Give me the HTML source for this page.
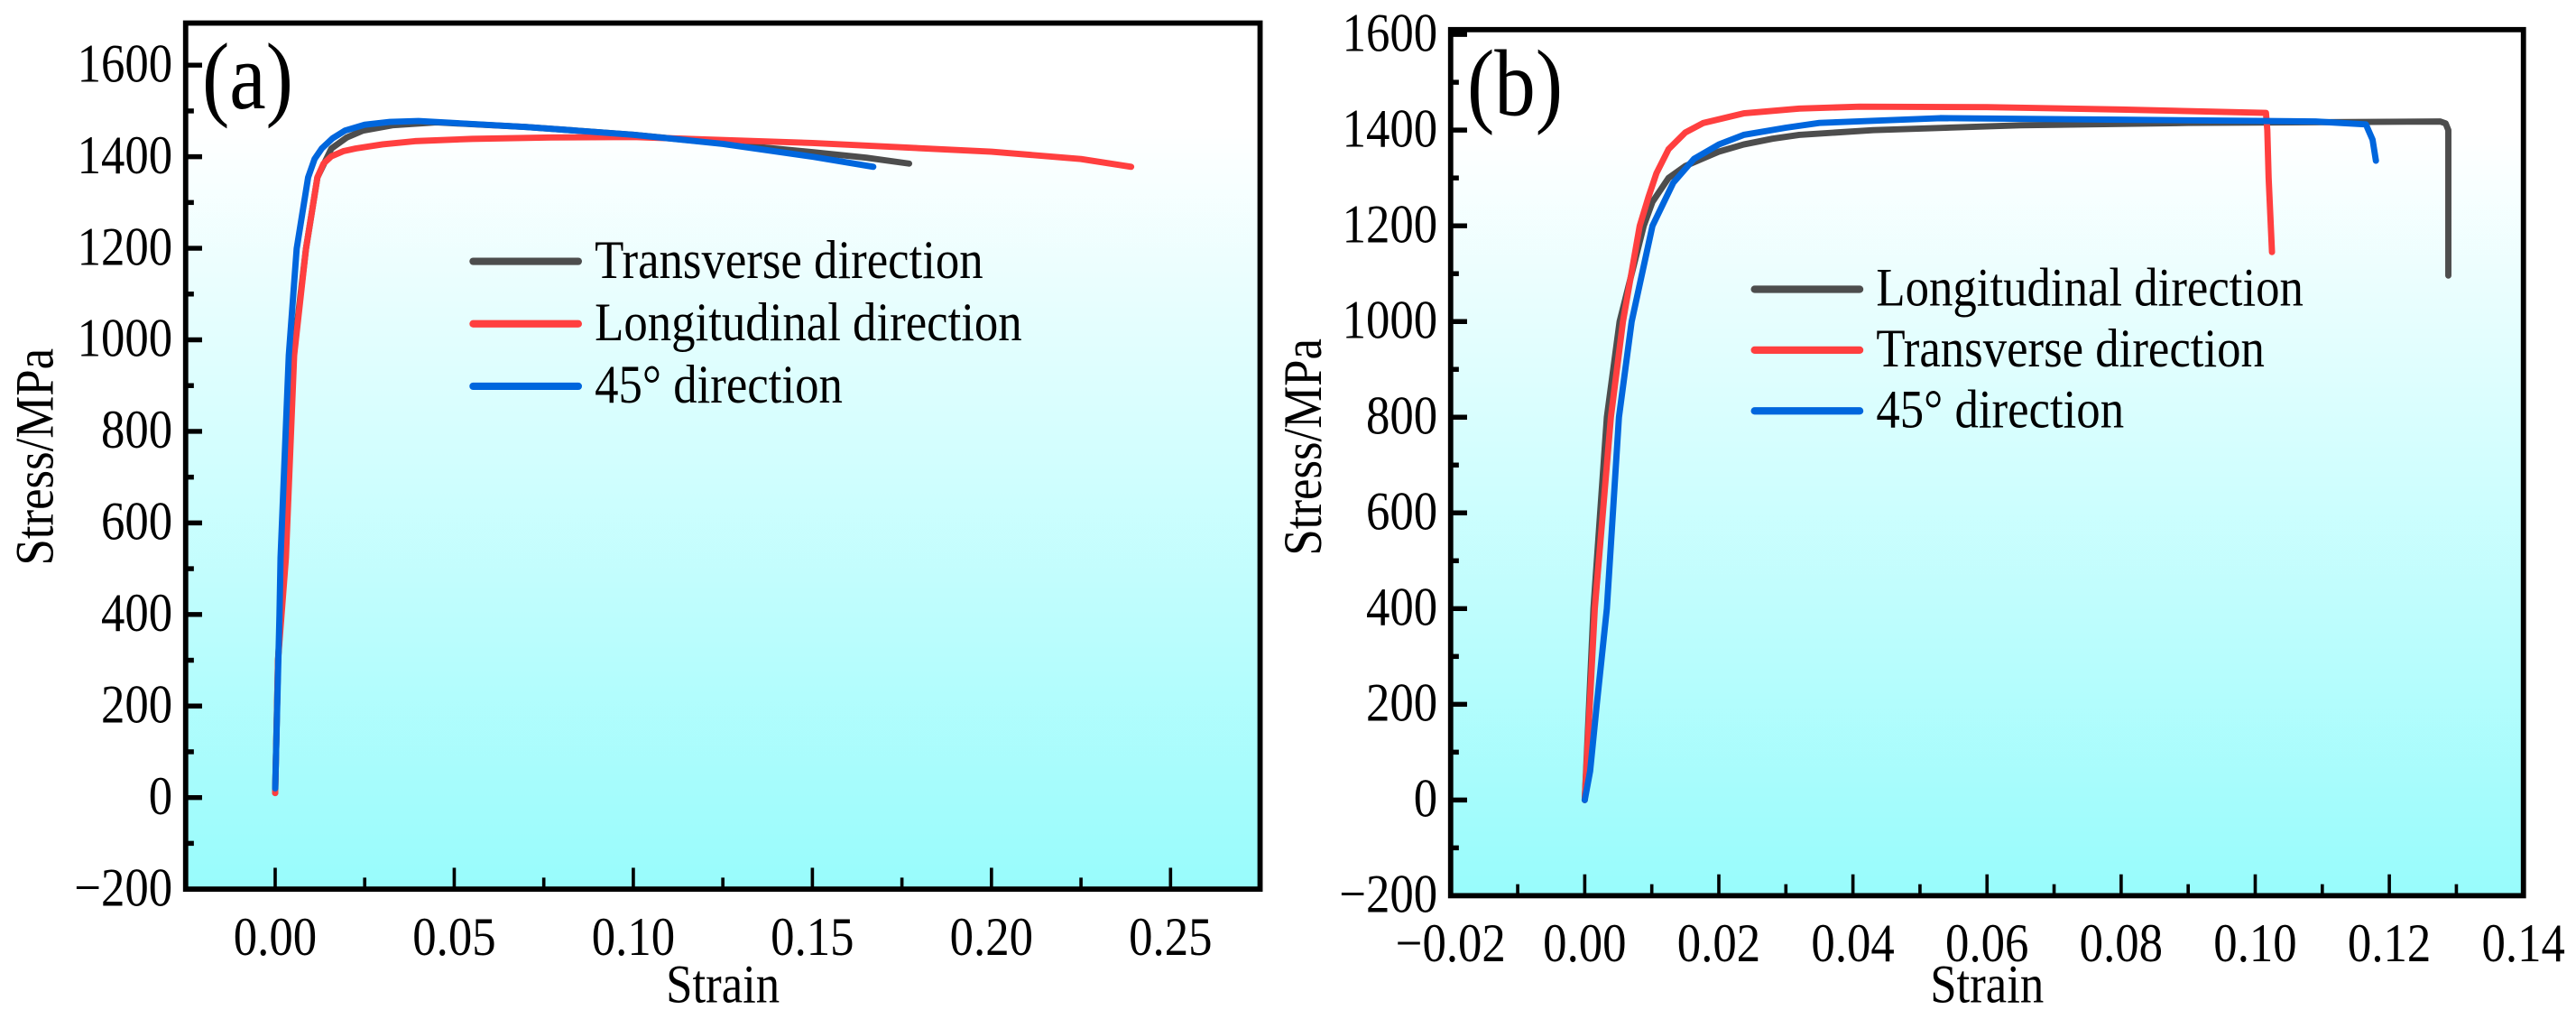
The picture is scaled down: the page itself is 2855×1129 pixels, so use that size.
<!DOCTYPE html>
<html><head><meta charset="utf-8"><style>
html,body{margin:0;padding:0;background:#fff;}
svg{display:block;font-family:"Liberation Serif",serif;}
</style></head><body>
<svg id="fig" width="2855" height="1129" viewBox="0 0 1568 620" xmlns="http://www.w3.org/2000/svg">
<defs>
<linearGradient id="bg" x1="0" y1="0" x2="0" y2="1">
<stop offset="0" stop-color="#ffffff"/><stop offset="0.12" stop-color="#ffffff"/><stop offset="1" stop-color="#98fcfc"/>
</linearGradient>
</defs>
</svg>
<script>
// ---------- Panel (a) data ----------
const aTransX = [0,0.0008,0.0025,0.005,0.0086,0.0118,0.0157,0.02,0.0245,0.033,0.045,0.07,0.1,0.13,0.15,0.165,0.177];
const aTransY = [10,300,520,960,1199,1355,1418,1442,1457,1469,1475,1465,1448,1425,1410,1398,1385];
const aLongX = [0,0.0008,0.003,0.0053,0.0086,0.0118,0.0135,0.0157,0.019,0.0225,0.03,0.039,0.055,0.077,0.1,0.15,0.2,0.225,0.239];
const aLongY = [10,300,524,966,1199,1355,1385,1401,1412,1418,1427,1434,1439,1442,1443,1430,1411,1395,1378];
const a45X = [0,0.0012,0.0015,0.0038,0.006,0.0092,0.011,0.013,0.016,0.0195,0.025,0.032,0.04,0.07,0.1,0.125,0.15,0.167];
const a45Y = [20,400,524,966,1199,1355,1395,1418,1440,1457,1470,1476,1478,1465,1448,1428,1400,1378];
const aXTicks = [0,0.05,0.10,0.15,0.20,0.25];
const aXTickLabels = ["0.00","0.05","0.10","0.15","0.20","0.25"];
const aYTicks = [-200,0,200,400,600,800,1000,1200,1400,1600];
const aLegend = ["Transverse direction","Longitudinal direction","45° direction"];
// ---------- Panel (b) data ----------
const bLongX = [0,0.0013,0.0033,0.0052,0.0088,0.0101,0.0125,0.015,0.0175,0.02,0.0237,0.028,0.032,0.043,0.065,0.09,0.1276,0.1284,0.1288,0.1288,0.1288];
const bLongY = [0,400,800,1000,1200,1250,1300,1325,1340,1355,1370,1382,1390,1400,1410,1415,1418,1414,1400,1250,1096];
const bTransX = [0,0.0015,0.0039,0.0057,0.0082,0.0095,0.0107,0.0125,0.015,0.0177,0.0237,0.032,0.041,0.06,0.08,0.1016,0.1018,0.102,0.1025];
const bTransY = [0,400,800,1000,1200,1260,1310,1360,1395,1415,1435,1445,1449,1448,1443,1436,1400,1300,1145];
const b45X = [0,0.0008,0.0018,0.0033,0.0051,0.007,0.0101,0.0132,0.0163,0.02,0.0237,0.03,0.035,0.053,0.078,0.109,0.1165,0.1175,0.118];
const b45Y = [0,60,200,400,800,1000,1200,1290,1340,1370,1390,1405,1415,1425,1422,1418,1412,1380,1336];
const bXTicks = [-0.02,0,0.02,0.04,0.06,0.08,0.10,0.12,0.14];
const bXTickLabels = ["\u22120.02","0.00","0.02","0.04","0.06","0.08","0.10","0.12","0.14"];
const bYTicks = [-200,0,200,400,600,800,1000,1200,1400,1600];
const bLegend = ["Longitudinal direction","Transverse direction","45° direction"];

const NS="http://www.w3.org/2000/svg";
const svg=document.getElementById('fig');
const SY=1.15;
const FS=29;
function mk(tag,attrs,parent){const e=document.createElementNS(NS,tag);for(const k in attrs)e.setAttribute(k,attrs[k]);(parent||svg).appendChild(e);return e;}
function txt(parent,x,y,s,size,anchor){
  return mk('text',{x:0,y:0,'text-anchor':anchor||'start','font-size':size,transform:'translate('+x+','+y+') scale(1,'+SY+')'},parent);
}
const COLORS=["#4d4d4d","#ff3f3f","#0066dd"];

function panel(cfg){
  const g=mk('g',{});
  
  
  const sx=v=>cfg.L+(v-cfg.xmin)/(cfg.xmax-cfg.xmin)*(cfg.R-cfg.L);
  const sy=v=>cfg.B-(v-cfg.ymin)/(cfg.ymax-cfg.ymin)*(cfg.B-cfg.T);
  const bg=mk('rect',{x:cfg.L,y:cfg.T,width:cfg.R-cfg.L,height:cfg.B-cfg.T,fill:'url(#bg)'},g);
  
  
  cfg.series.forEach((s,i)=>{
    const d=s.x.map((x,j)=>(j?'L':'M')+sx(x).toFixed(2)+' '+sy(s.y[j]).toFixed(2)).join(' ');
    const p=mk('path',{d:d,fill:'none',stroke:COLORS[s.c],'stroke-width':3.8,'stroke-linejoin':'round','stroke-linecap':'round'},g);
    
    
  });
  for(let v=cfg.ymin;v<=cfg.ymax+1e-9;v+=100){
    const major=cfg.yTicks.includes(Math.round(v));
    if(v<=cfg.ymin||v>=cfg.ymax-1)continue;
    const t=mk('line',{x1:cfg.L,x2:cfg.L+(major?10:5),y1:sy(v),y2:sy(v),stroke:'#000','stroke-width':3},g);
    
    
  }
  cfg.yTicks.forEach(v=>{
    const t=txt(g,cfg.L-8,sy(v)+10,'',FS,'end');
    t.textContent=v<0?'\u2212'+(-v):String(v);
    
    
  });
  const minorStep=(cfg.xTicks[1]-cfg.xTicks[0])/2;
  for(let k=0;;k++){
    const v=cfg.xTicks[0]+k*minorStep;
    if(v>cfg.xmax-1e-9)break;
    if(v<=cfg.xmin+1e-9)continue;
    const major=k%2===0;
    const t=mk('line',{x1:sx(v),x2:sx(v),y1:cfg.B,y2:cfg.B-(major?13:7),stroke:'#000','stroke-width':2},g);
    
    
  }
  cfg.xTicks.forEach((v,i)=>{
    const t=txt(g,sx(v),cfg.B+40,'',FS,'middle');
    t.textContent=cfg.xTickLabels[i];
    
    
  });
  const f=mk('rect',{x:cfg.L,y:cfg.T,width:cfg.R-cfg.L,height:cfg.B-cfg.T,fill:'none',stroke:'#000','stroke-width':3.2},g);
  
  
  const xt=txt(g,(cfg.L+cfg.R)/2,610,'',FS,'middle');
  xt.textContent='Strain';
  
  
  const yt=mk('text',{x:0,y:0,'text-anchor':'middle','font-size':FS,transform:'translate('+cfg.yTitleX+','+cfg.yTitleY+') rotate(-90) scale(1,'+SY+')'},g);
  yt.textContent='Stress/MPa';
  
  
  const lab=txt(g,cfg.L+10,cfg.T+52,'',50,'start');
  lab.textContent=cfg.label;
  
  
  cfg.legend.forEach((name,i)=>{
    const y=cfg.legY+i*cfg.legDY;
    const lg=mk('g',{},g);
    
    
    mk('line',{x1:cfg.legX,x2:cfg.legX+64,y1:y,y2:y,stroke:COLORS[i],'stroke-width':4.5,'stroke-linecap':'round'},lg);
    const t=txt(lg,cfg.legX+74,y+10,'',FS,'start');
    t.textContent=name;
  });
}

panel({id:'a',label:'(a)',L:113,R:767,T:14,B:541,xmin:-0.025,xmax:0.275,ymin:-200,ymax:1692,
  xTicks:aXTicks,xTickLabels:aXTickLabels,yTicks:aYTicks,yTitleX:32,yTitleY:278,
  legX:288,legY:159,legDY:38,legend:aLegend,
  series:[{name:'transverse',x:aTransX,y:aTransY,c:0},{name:'longitudinal',x:aLongX,y:aLongY,c:1},{name:'45-degree',x:a45X,y:a45Y,c:2}]});
panel({id:'b',label:'(b)',L:883,R:1536,T:18,B:545,xmin:-0.02,xmax:0.14,ymin:-200,ymax:1610,
  xTicks:bXTicks,xTickLabels:bXTickLabels,yTicks:bYTicks,yTitleX:804,yTitleY:272,
  legX:1068,legY:176,legDY:37,legend:bLegend,
  series:[{name:'longitudinal',x:bLongX,y:bLongY,c:0},{name:'transverse',x:bTransX,y:bTransY,c:1},{name:'45-degree',x:b45X,y:b45Y,c:2}]});
</script>
</body></html>
